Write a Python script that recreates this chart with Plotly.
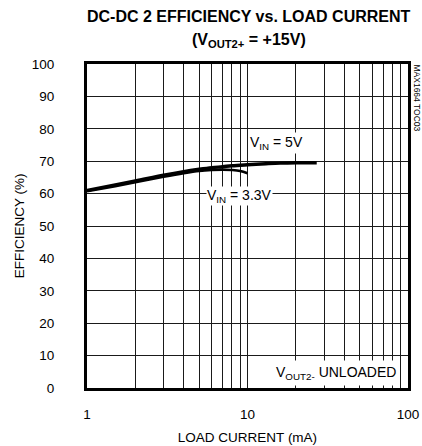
import plotly.graph_objects as go

# Data
x_5v = [1, 1.5, 2, 3, 4, 5, 6, 7, 8, 10, 13, 16, 20, 27]
eff_5v = [61.0, 62.7, 63.9, 65.7, 66.8, 67.5, 68.0, 68.3, 68.6, 68.9, 69.2, 69.4, 69.5, 69.5]
x_33v = [1, 1.5, 2, 3, 4, 5, 6, 7, 8, 9, 10]
eff_33v = [60.7, 62.3, 63.5, 65.2, 66.3, 67.0, 67.3, 67.4, 67.3, 67.0, 66.3]

x_tickvals = [1, 2, 3, 4, 5, 6, 7, 8, 9, 10, 20, 30, 40, 50, 60, 70, 80, 90, 100]
x_ticktext = ["1", "", "", "", "", "", "", "", "", "10", "", "", "", "", "", "", "", "", "100"]
y_tickvals = [0, 10, 20, 30, 40, 50, 60, 70, 80, 90, 100]

FONT = "Liberation Sans, Arial, sans-serif"

fig = go.Figure()
fig.add_trace(go.Scatter(x=x_5v, y=eff_5v, mode="lines", line=dict(color="black", width=3.4, shape="spline"),
                         showlegend=False, hoverinfo="skip"))
fig.add_trace(go.Scatter(x=x_33v, y=eff_33v, mode="lines", line=dict(color="black", width=2.6, shape="spline"),
                         showlegend=False, hoverinfo="skip"))

fig.update_layout(
    width=422, height=446,
    margin=dict(l=87, r=14, t=64, b=58),
    paper_bgcolor="white", plot_bgcolor="white",
    font=dict(family=FONT, color="black", size=13),
    showlegend=False,
)

fig.update_xaxes(
    type="log", range=[0, 2], automargin=False,
    tickvals=x_tickvals, ticktext=x_ticktext,
    showgrid=True, gridcolor="#1a1a1a", gridwidth=1,
    showline=True, linecolor="black", linewidth=3, mirror=True,
    ticks="", ticklabelstandoff=12,
    tickfont=dict(size=13.5),
    title=dict(text="LOAD CURRENT (mA)", font=dict(size=13.5), standoff=12),
    zeroline=False,
)
fig.update_yaxes(
    range=[0, 100], tickvals=y_tickvals, automargin=False,
    showgrid=True, gridcolor="#1a1a1a", gridwidth=1,
    showline=True, linecolor="black", linewidth=3, mirror=True,
    ticks="", ticklabelstandoff=27,
    tickfont=dict(size=13.5),
    title=dict(text="EFFICIENCY (%)", font=dict(size=13.5), standoff=5),
    zeroline=False,
)

# Title
fig.add_annotation(xref="paper", yref="paper", x=0.505, y=1, yshift=48, xanchor="center", yanchor="middle",
                   text="<b>DC-DC 2 EFFICIENCY vs. LOAD CURRENT</b>", showarrow=False,
                   font=dict(size=16, family=FONT))
fig.add_annotation(xref="paper", yref="paper", x=0.505, y=1, yshift=24, xanchor="center", yanchor="middle",
                   text="<b>(V<sub>OUT2+</sub> = +15V)</b>", showarrow=False,
                   font=dict(size=16, family=FONT))

# Curve labels
fig.add_annotation(x=1.18, y=75.6, xref="x", yref="y", xanchor="center", yanchor="middle",
                   text="V<sub>IN</sub> = 5V", showarrow=False, bgcolor="white",
                   font=dict(size=14), borderpad=1)
fig.add_annotation(x=0.95, y=59.4, xref="x", yref="y", xanchor="center", yanchor="middle",
                   text="V<sub>IN</sub> = 3.3V", showarrow=False, bgcolor="white",
                   font=dict(size=14), borderpad=0)
fig.add_annotation(x=1.55, y=4.7, xref="x", yref="y", xanchor="center", yanchor="middle",
                   text="V<sub>OUT2-</sub> UNLOADED", showarrow=False, bgcolor="white",
                   font=dict(size=14), borderpad=3)

# Side code
fig.add_annotation(xref="paper", yref="paper", x=1, xshift=9, y=1, yshift=2, xanchor="center", yanchor="top",
                   text="MAX1664 TOC03", textangle=90, showarrow=False,
                   font=dict(size=8.5))

fig.write_html("out.html", config={"displayModeBar": False},
               post_script="document.body.style.margin='0';document.body.style.overflow='hidden';")
